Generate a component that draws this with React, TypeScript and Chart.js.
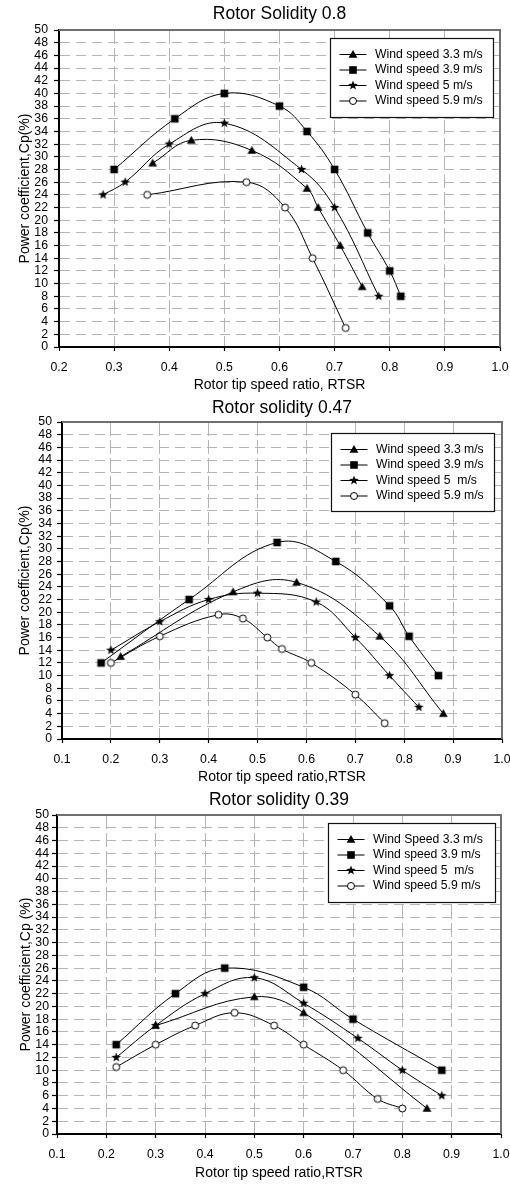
import React, { useEffect, useRef } from 'react';
import { Chart, registerables } from 'chart.js';

Chart.register(...registerables);

const FONT = "'Liberation Sans', Arial, sans-serif";

// ---------- Chart 1: Rotor Solidity 0.8 ----------
const s08_title = 'Rotor Solidity 0.8';
const s08_xTitle = 'Rotor tip speed ratio, RTSR';
const s08_yTitle = 'Power coefficient,Cp(%)';
const s08_labels = ['Wind speed 3.3 m/s', 'Wind speed 3.9 m/s', 'Wind speed 5 m/s', 'Wind speed 5.9 m/s'];
const s08_w33_x = [0.37, 0.44, 0.55, 0.65, 0.67, 0.71, 0.75];
const s08_w33_y = [29, 32.6, 31, 25, 22, 16, 9.5];
const s08_w39_x = [0.3, 0.41, 0.5, 0.6, 0.65, 0.7, 0.76, 0.8, 0.82];
const s08_w39_y = [28, 36, 40, 38, 34, 28, 18, 12, 8];
const s08_w5_x = [0.28, 0.32, 0.4, 0.5, 0.64, 0.7, 0.78];
const s08_w5_y = [24, 26, 32, 35.3, 28, 22, 8];
const s08_w59_x = [0.36, 0.54, 0.61, 0.66, 0.72];
const s08_w59_y = [24, 26, 22, 14, 3];

// ---------- Chart 2: Rotor solidity 0.47 ----------
const s047_title = 'Rotor solidity 0.47';
const s047_xTitle = 'Rotor tip speed ratio,RTSR';
const s047_yTitle = 'Power coefficient,Cp(%)';
const s047_labels = ['Wind speed 3.3 m/s', 'Wind speed 3.9 m/s', 'Wind speed 5  m/s', 'Wind speed 5.9 m/s'];
const s047_w33_x = [0.22, 0.45, 0.58, 0.75, 0.88];
const s047_w33_y = [13, 23.2, 24.7, 16.2, 4];
const s047_w39_x = [0.18, 0.36, 0.54, 0.66, 0.77, 0.81, 0.87];
const s047_w39_y = [12, 22, 31, 28, 21, 16.2, 10];
const s047_w5_x = [0.2, 0.3, 0.4, 0.5, 0.62, 0.7, 0.77, 0.83];
const s047_w5_y = [14, 18.5, 22, 23, 21.6, 16, 10, 5];
const s047_w59_x = [0.2, 0.3, 0.42, 0.47, 0.52, 0.55, 0.61, 0.7, 0.76];
const s047_w59_y = [12, 16.2, 19.6, 19, 16, 14.2, 12, 7, 2.5];

// ---------- Chart 3: Rotor solidity 0.39 ----------
const s039_title = 'Rotor solidity 0.39';
const s039_xTitle = 'Rotor tip speed ratio,RTSR';
const s039_yTitle = 'Power coefficient,Cp (%)';
const s039_labels = ['Wind Speed 3.3 m/s', 'Wind speed 3.9 m/s', 'Wind speed 5  m/s', 'Wind speed 5.9 m/s'];
const s039_w33_x = [0.3, 0.5, 0.6, 0.85];
const s039_w33_y = [17, 21.5, 19, 4];
const s039_w39_x = [0.22, 0.34, 0.44, 0.6, 0.7, 0.88];
const s039_w39_y = [14, 22, 26, 23, 18, 10];
const s039_w5_x = [0.22, 0.3, 0.4, 0.5, 0.6, 0.71, 0.8, 0.88];
const s039_w5_y = [12, 17, 22, 24.5, 20.5, 15, 10, 6];
const s039_w59_x = [0.22, 0.3, 0.38, 0.46, 0.54, 0.6, 0.68, 0.75, 0.8];
const s039_w59_y = [10.5, 14, 17, 19, 17, 14, 10, 5.5, 4];

// axis ranges / tick steps
const yMin = 0;
const yMax = 50;
const yStep = 2;
const xMax = 1.0;
const xStep = 0.1;
const s08_xMin = 0.2;
const s047_xMin = 0.1;
const s039_xMin = 0.1;

type Marker = 'triangle' | 'square' | 'star' | 'circle';
const markers: Marker[] = ['triangle', 'square', 'star', 'circle'];

function drawMarker(ctx: CanvasRenderingContext2D, kind: Marker, x: number, y: number) {
  ctx.save();
  ctx.fillStyle = '#000';
  ctx.strokeStyle = '#000';
  ctx.lineWidth = 1;
  ctx.setLineDash([]);
  ctx.beginPath();
  if (kind === 'triangle') {
    ctx.moveTo(x, y - 4.4);
    ctx.lineTo(x + 4.4, y + 3.2);
    ctx.lineTo(x - 4.4, y + 3.2);
    ctx.closePath();
    ctx.fill();
  } else if (kind === 'square') {
    ctx.rect(x - 3.8, y - 3.8, 7.6, 7.6);
    ctx.fill();
  } else if (kind === 'star') {
    for (let i = 0; i < 10; i++) {
      const r = i % 2 === 0 ? 5 : 2.1;
      const a = -Math.PI / 2 + (i * Math.PI) / 5;
      const px = x + r * Math.cos(a);
      const py = y + r * Math.sin(a);
      if (i === 0) ctx.moveTo(px, py);
      else ctx.lineTo(px, py);
    }
    ctx.closePath();
    ctx.fill();
  } else {
    ctx.arc(x, y, 3.5, 0, Math.PI * 2);
    ctx.fillStyle = '#fff';
    ctx.fill();
    ctx.stroke();
  }
  ctx.restore();
}

function makeMarkerImage(kind: Marker): HTMLCanvasElement {
  const c = document.createElement('canvas');
  c.width = 13;
  c.height = 13;
  const ctx = c.getContext('2d')!;
  drawMarker(ctx, kind, 6.5, 6.5);
  return c;
}

interface PanelProps {
  top: number;
  height: number;
  title: string;
  xTitle: string;
  yTitle: string;
  labels: string[];
  xs: number[][];
  ys: number[][];
  xMin: number;
  yAxisWidth: number;
  padRight: number;
  titlePad: { top: number; bottom: number };
  xAxisHeight: number;
  xTitlePadBottom: number;
  yTitlePadTop: number;
  yTickPad: number;
  legend: { insetT: number; insetR: number; w: number; h: number };
}

function Panel(p: PanelProps) {
  const ref = useRef<HTMLCanvasElement | null>(null);
  useEffect(() => {
    const canvas = ref.current;
    if (!canvas) return;
    const imgs = markers.map(makeMarkerImage);
    const datasets = p.labels.map((label, k) => ({
      label,
      data: p.xs[k].map((x, i) => ({ x, y: p.ys[k][i] })),
      showLine: true,
      borderColor: '#000',
      backgroundColor: '#000',
      borderWidth: 1,
      tension: 0.4,
      pointStyle: imgs[k] as any,
      pointRadius: 5,
      pointHoverRadius: 5,
    }));

    const framePlugin = {
      id: 'frame',
      beforeDatasetsDraw(chart: any) {
        const { ctx, chartArea } = chart;
        ctx.save();
        ctx.strokeStyle = '#707070';
        ctx.lineWidth = 2;
        ctx.setLineDash([]);
        ctx.beginPath();
        ctx.moveTo(chartArea.left, chartArea.top);
        ctx.lineTo(chartArea.right, chartArea.top);
        ctx.lineTo(chartArea.right, chartArea.bottom);
        ctx.stroke();
        ctx.restore();
      },
    };

    const legendPlugin = {
      id: 'boxLegend',
      afterDatasetsDraw(chart: any) {
        const { ctx, chartArea } = chart;
        const L = p.legend;
        const x0 = Math.round(chartArea.right - L.insetR - L.w);
        const y0 = Math.round(chartArea.top + L.insetT);
        ctx.save();
        ctx.setLineDash([]);
        ctx.fillStyle = '#fff';
        ctx.fillRect(x0, y0, L.w, L.h);
        ctx.strokeStyle = '#111';
        ctx.lineWidth = 1.2;
        ctx.strokeRect(x0 + 0.5, y0 + 0.5, L.w, L.h);
        p.labels.forEach((label, i) => {
          const y = y0 + 16.5 + i * 15.5;
          ctx.strokeStyle = '#000';
          ctx.lineWidth = 1;
          ctx.beginPath();
          ctx.moveTo(x0 + 9.5, y);
          ctx.lineTo(x0 + 36.5, y);
          ctx.stroke();
          drawMarker(ctx, markers[i], x0 + 23, y);
          ctx.fillStyle = '#000';
          ctx.font = `12.2px ${FONT}`;
          ctx.textBaseline = 'middle';
          ctx.textAlign = 'left';
          ctx.fillText(label, x0 + 45, y);
        });
        ctx.restore();
      },
    };

    const chart = new Chart(canvas, {
      type: 'scatter',
      data: { datasets: datasets as any },
      options: {
        responsive: false,
        maintainAspectRatio: false,
        animation: false,
        layout: { padding: { left: 0, right: p.padRight, top: 0, bottom: 0 } },
        plugins: {
          legend: { display: false },
          tooltip: { enabled: false },
          title: {
            display: true,
            text: p.title,
            fullSize: false,
            color: '#000',
            font: { family: FONT, size: 17.5, weight: 'normal' as any, lineHeight: 1.2 },
            padding: p.titlePad,
          },
        },
        scales: {
          x: {
            type: 'linear',
            min: p.xMin,
            max: xMax,
            ticks: {
              stepSize: xStep,
              color: '#000',
              font: { family: FONT, size: 12.3 },
              padding: 9,
              maxRotation: 0,
              autoSkip: false,
              callback: (v: any) => Number(v).toFixed(1),
            },
            grid: {
              color: '#b4b4b4',
              lineWidth: 1,
              tickLength: 4,
              tickColor: '#000',
              tickWidth: 1.2,
              tickBorderDash: [],
            } as any,
            border: { color: '#000', width: 2, dash: [14, 4] } as any,
            title: {
              display: true,
              text: p.xTitle,
              color: '#000',
              font: { family: FONT, size: 14, lineHeight: 1 },
              padding: { top: 0, bottom: p.xTitlePadBottom },
            },
            afterFit: (s: any) => {
              s.height = p.xAxisHeight;
              s.paddingRight = 0;
              s.paddingLeft = 0;
            },
          },
          y: {
            type: 'linear',
            min: yMin,
            max: yMax,
            ticks: {
              stepSize: yStep,
              color: '#000',
              font: { family: FONT, size: 12.3 },
              padding: p.yTickPad,
              autoSkip: false,
            },
            grid: {
              color: '#b4b4b4',
              lineWidth: 1,
              tickLength: 5,
              tickColor: '#000',
              tickWidth: 1.2,
              tickBorderDash: [],
            } as any,
            border: { color: '#000', width: 2, dash: [10, 6] } as any,
            title: {
              display: true,
              text: p.yTitle,
              color: '#000',
              font: { family: FONT, size: 14, lineHeight: 1.2 },
              padding: { top: p.yTitlePadTop, bottom: 0 },
            },
            afterFit: (s: any) => {
              s.width = p.yAxisWidth;
            },
          },
        },
      },
      plugins: [framePlugin, legendPlugin],
    });
    return () => chart.destroy();
  }, []);
  return (
    <div style={{ position: 'absolute', left: 0, top: p.top, width: 510, height: p.height }}>
      <canvas ref={ref} width={510} height={p.height} />
    </div>
  );
}

export default function App() {
  return (
    <div style={{ position: 'absolute', left: 0, top: 0, width: 510, height: 1184, background: '#fff' }}>
      <Panel
        top={0}
        height={392}
        title={s08_title}
        xTitle={s08_xTitle}
        yTitle={s08_yTitle}
        labels={s08_labels}
        xs={[s08_w33_x, s08_w39_x, s08_w5_x, s08_w59_x]}
        ys={[s08_w33_y, s08_w39_y, s08_w5_y, s08_w59_y]}
        xMin={s08_xMin}
        yAxisWidth={59}
        padRight={10}
        titlePad={{ top: 4, bottom: 5 }}
        xAxisHeight={45}
        xTitlePadBottom={0}
        yTitlePadTop={16.6}
        yTickPad={6}
        legend={{ insetT: 8, insetR: 7, w: 163, h: 79 }}
      />
      <Panel
        top={392}
        height={392}
        title={s047_title}
        xTitle={s047_xTitle}
        yTitle={s047_yTitle}
        labels={s047_labels}
        xs={[s047_w33_x, s047_w39_x, s047_w5_x, s047_w59_x]}
        ys={[s047_w33_y, s047_w39_y, s047_w5_y, s047_w59_y]}
        xMin={s047_xMin}
        yAxisWidth={62}
        padRight={8}
        titlePad={{ top: 5.8, bottom: 3.2 }}
        xAxisHeight={45}
        xTitlePadBottom={0.3}
        yTitlePadTop={16.6}
        yTickPad={5}
        legend={{ insetT: 11, insetR: 8, w: 163, h: 78 }}
      />
      <Panel
        top={784}
        height={400}
        title={s039_title}
        xTitle={s039_xTitle}
        yTitle={s039_yTitle}
        labels={s039_labels}
        xs={[s039_w33_x, s039_w39_x, s039_w5_x, s039_w59_x]}
        ys={[s039_w33_y, s039_w39_y, s039_w5_y, s039_w59_y]}
        xMin={s039_xMin}
        yAxisWidth={57}
        padRight={9}
        titlePad={{ top: 6, bottom: 4 }}
        xAxisHeight={50}
        xTitlePadBottom={3.7}
        yTitlePadTop={18}
        yTickPad={3}
        legend={{ insetT: 8, insetR: 6, w: 167, h: 79 }}
      />
    </div>
  );
}
